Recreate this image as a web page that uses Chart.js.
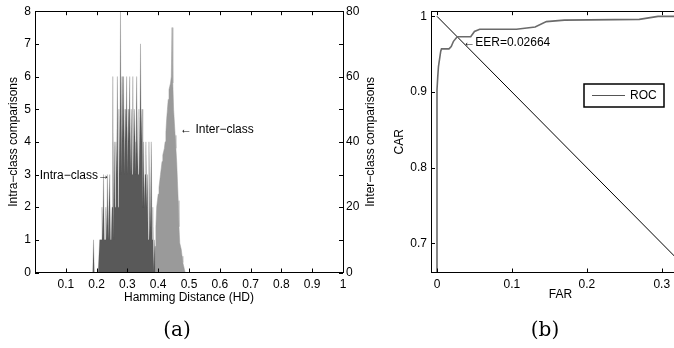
<!DOCTYPE html>
<html>
<head>
<meta charset="utf-8">
<script src="https://cdn.jsdelivr.net/npm/chart.js@4.4.0/dist/chart.umd.min.js"></script>
<style>
  html, body { margin: 0; padding: 0; background: #fff; width: 674px; height: 348px; overflow: hidden; }
  #boxA { position: absolute; left: 0; top: 0; }
  #boxB { position: absolute; left: 380px; top: 0; }
  .cap { position: absolute; top: 317px; width: 60px; text-align: center;
         font-family: "DejaVu Serif", "Liberation Serif", serif; font-size: 20px; color: #000; }
</style>
</head>
<body>
<canvas id="boxA" width="380" height="348"></canvas>
<canvas id="boxB" width="310" height="348"></canvas>
<div class="cap" style="left:147px">(a)</div>
<div class="cap" style="left:515px">(b)</div>
<script>
// ---- (a) histogram of Hamming distances ----
const intraHD = [0.1850,0.1875,0.1900,0.1925,0.1950,0.1975,0.2000,0.2025,0.2050,0.2075,
  0.2100,0.2125,0.2150,0.2175,0.2200,0.2225,0.2250,0.2275,0.2300,0.2325,
  0.2350,0.2375,0.2400,0.2425,0.2450,0.2475,0.2500,0.2525,0.2550,0.2575,
  0.2600,0.2625,0.2650,0.2675,0.2700,0.2725,0.2750,0.2775,0.2800,0.2825,
  0.2850,0.2875,0.2900,0.2925,0.2950,0.2975,0.3000,0.3025,0.3050,0.3075,
  0.3100,0.3125,0.3150,0.3175,0.3200,0.3225,0.3250,0.3275,0.3300,0.3325,
  0.3350,0.3375,0.3400,0.3425,0.3450,0.3475,0.3500,0.3525,0.3550,0.3575,
  0.3600,0.3625,0.3650,0.3675,0.3700,0.3725,0.3750,0.3775,0.3800,0.3825,
  0.3850,0.3875,0.3900];
const intraCount = [0,0,1,0,0,0,0,0,0,0,
  1,1,1,2,1,3,1,1,2,1,
  3,1,1,3,1,1,2,6,1,4,
  2,4,3,6,2,5,3,8,3,6,
  4,6,3,5,4,6,3,5,4,6,
  3,5,3,6,3,5,4,3,6,4,
  3,5,3,7,4,5,2,4,2,3,
  4,2,3,1,4,1,2,4,1,2,
  0,1,0];

const interHD = [0.3850,0.3875,0.3900,0.3925,0.3950,0.3975,0.4000,0.4025,0.4050,0.4075,
  0.4100,0.4125,0.4150,0.4175,0.4200,0.4225,0.4250,0.4275,0.4300,0.4325,
  0.4350,0.4375,0.4400,0.4425,0.4450,0.4475,0.4500,0.4525,0.4550,0.4575,
  0.4600,0.4625,0.4650,0.4675,0.4700,0.4725,0.4750,0.4775,0.4800,0.4825,
  0.4850,0.4875];
const interCount = [0,3,8,14,20,22,24,26,28,30,
  32,34,36,37,38,40,43,47,50,53,
  56,57,58,60,75,58,50,46,42,38,
  34,28,22,14,9,8,7,5,3,2,
  1,0];

const hdTicks = [0,0.1,0.2,0.3,0.4,0.5,0.6,0.7,0.8,0.9,1];
const intraTicks = [0,1,2,3,4,5,6,7,8];
const interTicks = [0,10,20,30,40,50,60,70,80];
const interLabelled = [0,20,40,60,80];

// ---- (b) ROC ----
const rocFAR = [0,0,0.001,0.002,0.005,0.006,0.016,0.019,0.022,0.027,0.045,0.05,0.057,0.106,0.131,0.146,0.17,0.27,0.295,0.34];
const rocCAR = [0.66,0.903,0.92,0.934,0.954,0.957,0.957,0.96,0.967,0.973,0.973,0.98,0.983,0.983,0.986,0.993,0.995,0.996,1.0,1.0];
const eerFAR = [0,0.34];
const eerCAR = [1,0.66];
const farTicks = [0,0.1,0.2,0.3];
const carTicks = [0.7,0.8,0.9,1];

const FONT = { family: '"Liberation Sans", Arial, sans-serif', size: 12 };
Chart.defaults.font = FONT;
Chart.defaults.color = '#000';
const NOTE_FONT = '12px "Liberation Sans", Arial, sans-serif';

const pts = (xs, ys) => xs.map((x, i) => ({ x: x, y: ys[i] }));
const fixTicks = arr => s => { s.ticks = arr.map(v => ({ value: v })); };

// frame + inward MATLAB-style tick marks + text notes
function framePlugin(tickSpecs, notes) {
  return {
    id: 'frame',
    afterDatasetsDraw(chart) {
      const { ctx, chartArea: a } = chart;
      ctx.save();
      ctx.strokeStyle = '#000';
      ctx.lineWidth = 1;
      ctx.strokeRect(Math.round(a.left) + 0.5, Math.round(a.top) + 0.5,
        Math.round(a.right - a.left), Math.round(a.bottom - a.top));
      ctx.beginPath();
      tickSpecs.forEach(t => {
        const sc = chart.scales[t.id];
        t.values.forEach(v => {
          const p = Math.round(sc.getPixelForValue(v)) + 0.5;
          if (sc.isHorizontal()) {
            ctx.moveTo(p, a.bottom); ctx.lineTo(p, a.bottom - 4);
            ctx.moveTo(p, a.top); ctx.lineTo(p, a.top + 4);
          } else if (t.side === 'left') {
            ctx.moveTo(a.left, p); ctx.lineTo(a.left + 4, p);
          } else {
            ctx.moveTo(a.right, p); ctx.lineTo(a.right - 4, p);
          }
        });
      });
      ctx.stroke();
      notes.forEach(n => n(chart, ctx));
      ctx.restore();
    }
  };
}

new Chart(document.getElementById('boxA'), {
  type: 'line',
  data: {
    datasets: [
      { label: 'Intra-class', data: pts(intraHD, intraCount), yAxisID: 'y',
        borderColor: 'rgba(90,90,90,0.6)', borderWidth: 0.4, backgroundColor: '#595959',
        fill: 'origin', pointRadius: 0, tension: 0 },
      { label: 'Inter-class', data: pts(interHD, interCount), yAxisID: 'y2',
        borderColor: '#9a9a9a', borderWidth: 0.5, backgroundColor: '#9a9a9a',
        fill: 'origin', pointRadius: 0, tension: 0 }
    ]
  },
  options: {
    responsive: false, animation: false,
    layout: { padding: { top: 10, right: 0, bottom: 0, left: 0 } },
    plugins: { legend: { display: false }, tooltip: { enabled: false } },
    scales: {
      x: { type: 'linear', min: 0, max: 1, afterBuildTicks: fixTicks(hdTicks),
        afterFit: s => { s.height = 75.5; },
        grid: { display: false, drawTicks: false }, border: { display: false },
        ticks: { padding: 5, maxRotation: 0, autoSkip: false, callback: v => v === 0 ? '' : String(v) },
        title: { display: true, text: 'Hamming Distance (HD)', padding: { top: 0, bottom: 43.5 } } },
      y: { type: 'linear', position: 'left', min: 0, max: 8, afterBuildTicks: fixTicks(intraTicks),
        afterFit: s => { s.width = 35; },
        grid: { display: false, drawTicks: false }, border: { display: false },
        ticks: { padding: 4, callback: v => String(v) },
        title: { display: true, text: 'Intra\u2212class comparisons', padding: { top: 6, bottom: 0 } } },
      y2: { type: 'linear', position: 'right', min: 0, max: 80, afterBuildTicks: fixTicks(interTicks),
        afterFit: s => { s.width = 37; },
        grid: { display: false, drawTicks: false }, border: { display: false },
        ticks: { padding: 3, callback: v => interLabelled.includes(v) ? String(v) : '' } }
    }
  },
  plugins: [framePlugin(
    [{ id: 'x', values: hdTicks }, { id: 'y', values: intraTicks, side: 'left' },
     { id: 'y2', values: interTicks, side: 'right' }],
    [
      (chart, ctx) => {
        const { x, y2, y } = chart.scales;
        ctx.fillStyle = '#000';
        ctx.font = NOTE_FONT;
        ctx.textBaseline = 'middle';
        ctx.textAlign = 'left';
        ctx.fillText('\u2190 Inter\u2212class', x.getPixelForValue(0.471), y2.getPixelForValue(43.8));
        ctx.textAlign = 'right';
        ctx.fillText('Intra\u2212class\u2192', x.getPixelForValue(0.2435), y.getPixelForValue(2.95));
        // right axis title, reading bottom to top like the left one
        ctx.save();
        ctx.translate(371, (chart.chartArea.top + chart.chartArea.bottom) / 2);
        ctx.rotate(-Math.PI / 2);
        ctx.textAlign = 'center';
        ctx.fillText('Inter\u2212class comparisons', 0, 0);
        ctx.restore();
      }
    ])]
});

new Chart(document.getElementById('boxB'), {
  type: 'line',
  data: {
    datasets: [
      { label: 'ROC', data: pts(rocFAR, rocCAR), borderColor: '#6a6a6a', borderWidth: 1.6,
        pointRadius: 0, tension: 0, fill: false },
      { label: 'EER', data: pts(eerFAR, eerCAR), borderColor: '#000', borderWidth: 1,
        pointRadius: 0, tension: 0, fill: false }
    ]
  },
  options: {
    responsive: false, animation: false,
    layout: { padding: { top: 9.5, right: 0, bottom: 0, left: 0 } },
    plugins: { legend: { display: false }, tooltip: { enabled: false } },
    scales: {
      x: { type: 'linear', min: -0.008, max: 0.3377, afterBuildTicks: fixTicks(farTicks),
        afterFit: s => { s.height = 75.5; },
        grid: { display: false, drawTicks: false }, border: { display: false },
        ticks: { padding: 5, maxRotation: 0, autoSkip: false, callback: v => String(v) },
        title: { display: true, text: 'FAR', padding: { top: 0, bottom: 46 } } },
      y: { type: 'linear', min: 0.6614, max: 1.0068, afterBuildTicks: fixTicks(carTicks),
        afterFit: s => { s.width = 51; },
        grid: { display: false, drawTicks: false }, border: { display: false },
        ticks: { padding: 4, callback: v => String(v) },
        title: { display: true, text: 'CAR', padding: { top: 12, bottom: 0 } } }
    }
  },
  plugins: [framePlugin(
    [{ id: 'x', values: farTicks }, { id: 'y', values: carTicks, side: 'left' }],
    [
      (chart, ctx) => {
        const { x, y } = chart.scales;
        ctx.fillStyle = '#000';
        ctx.font = NOTE_FONT;
        ctx.textBaseline = 'middle';
        ctx.textAlign = 'left';
        ctx.fillText('\u2190EER=0.02664', x.getPixelForValue(0.035), y.getPixelForValue(0.965));
        // legend box
        const bx = 584 - 380, by = 84, bw = 80, bh = 23;
        ctx.fillStyle = '#fff';
        ctx.fillRect(bx, by, bw, bh);
        ctx.strokeStyle = '#000';
        ctx.lineWidth = 1.5;
        ctx.strokeRect(bx, by, bw, bh);
        ctx.beginPath();
        ctx.strokeStyle = '#555';
        ctx.lineWidth = 1;
        ctx.moveTo(bx + 8, by + bh / 2); ctx.lineTo(bx + 41, by + bh / 2);
        ctx.stroke();
        ctx.fillStyle = '#000';
        ctx.font = '12px "Liberation Sans", Arial, sans-serif';
        ctx.fillText('ROC', bx + 46, by + bh / 2 + 0.5);
      }
    ])]
});
</script>
</body>
</html>
